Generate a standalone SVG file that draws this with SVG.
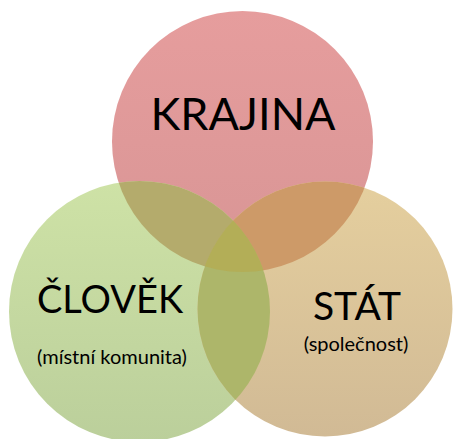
<svg xmlns="http://www.w3.org/2000/svg" width="453" height="439" viewBox="0 0 453 439">
<style>
.t{font-family:Lato,"Open Sans","Liberation Sans",sans-serif;fill:#000;text-anchor:middle}
</style>
<defs>
<linearGradient id="gR" x1="0" y1="0" x2="0" y2="1"><stop offset="0" stop-color="#e69d9d"/><stop offset="1" stop-color="#d89595"/></linearGradient>
<linearGradient id="gG" x1="0" y1="0" x2="0" y2="1"><stop offset="0" stop-color="#cee2a6"/><stop offset="1" stop-color="#bbcf9b"/></linearGradient>
<linearGradient id="gT" x1="0" y1="0" x2="0" y2="1"><stop offset="0" stop-color="#e5cf9e"/><stop offset="1" stop-color="#d1ba95"/></linearGradient>
<clipPath id="cR"><circle cx="242.5" cy="141.5" r="130.5"/></clipPath>
<clipPath id="cG"><circle cx="139.5" cy="311.5" r="130.5"/></clipPath>
<clipPath id="cT"><circle cx="325" cy="309" r="127.5"/></clipPath>
</defs>
<g id="krajina"><circle cx="242.5" cy="141.5" r="130.5" fill="url(#gR)"/></g>
<g id="clovek"><circle cx="139.5" cy="311.5" r="130.5" fill="url(#gG)"/></g>
<g id="stat"><circle cx="325" cy="309" r="127.5" fill="url(#gT)"/></g>
<g id="overlaps">
<g clip-path="url(#cR)"><circle cx="139.5" cy="311.5" r="130.5" fill="#b4ab6c"/></g>
<g clip-path="url(#cR)"><circle cx="325" cy="309" r="127.5" fill="#cd9a68"/></g>
<g clip-path="url(#cG)"><circle cx="325" cy="309" r="127.5" fill="#adb66a"/></g>
<g clip-path="url(#cR)"><g clip-path="url(#cG)"><circle cx="325" cy="309" r="127.5" fill="#b3ae57"/></g></g>
</g>
<g id="labels">
<text class="t" x="243" y="130" font-size="45">KRAJINA</text>
<text class="t" x="110" y="313" font-size="38">ČLOVĚK</text>
<text class="t" x="112" y="364" font-size="20">(místní komunita)</text>
<text class="t" x="357" y="320" font-size="39">STÁT</text>
<text class="t" x="356" y="351" font-size="20">(společnost)</text>
</g>
</svg>
